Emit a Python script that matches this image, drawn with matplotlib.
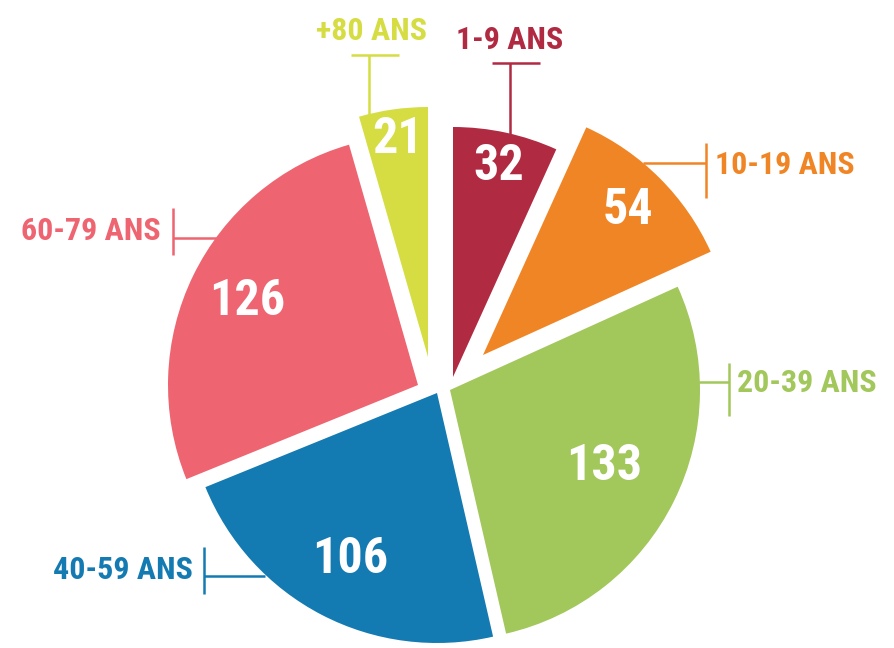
import numpy as np
import matplotlib.pyplot as plt

# data (clockwise from the top)
labels = ["1-9 ANS", "10-19 ANS", "20-39 ANS", "40-59 ANS", "60-79 ANS", "+80 ANS"]
counts = [32, 54, 133, 106, 126, 21]
colors = ["#B02A42", "#F08526", "#A2C75B", "#147AB2", "#EE6471", "#D5DD43"]

W, H = 895, 648
# narrow bold sans, first one found is used
plt.rcParams["font.family"] = ["Liberation Sans Narrow", "Roboto Condensed",
                               "Barlow Semi Condensed", "DejaVu Sans"]

fig = plt.figure(figsize=(W / 100, H / 100), dpi=100)
ax = fig.add_axes([0, 0, 1, 1])

cx, cy = 440, 378       # pie centre in screen pixels
R = 250
# each slice is pulled out by hand in the original (screen px, y down)
nudge = [(13, -1), (43, -23), (10, 12), (-3, 15), (-22, 7), (-12, -21)]
num_r = [0.86, 0.82, 0.69, 0.75, 0.76, 0.88]   # radius fraction of the numbers

wedges, _ = ax.pie(counts, colors=colors, startangle=90, counterclock=False,
                   radius=R, center=(cx, H - cy),
                   wedgeprops=dict(linewidth=0))

for w, (dx, dy), v, fr in zip(wedges, nudge, counts, num_r):
    c = (cx + dx, H - cy - dy)
    w.set_center(c)
    mid = np.deg2rad((w.theta1 + w.theta2) / 2)
    ax.text(c[0] + fr * R * np.cos(mid), c[1] + fr * R * np.sin(mid), str(v),
            color="white", fontsize=36, fontweight="bold",
            ha="center", va="center")

lw = 1.8
fs = 23


def line(xs, ys, col):
    ax.plot(xs, [H - y for y in ys], color=col, lw=lw, solid_capstyle="butt")


# +80 ANS (top)
line([369, 369], [55, 116], colors[5])
line([351, 399], [55, 55], colors[5])
ax.text(372, H - 31, labels[5], color=colors[5], fontsize=fs, fontweight="bold",
        ha="center", va="center")

# 1-9 ANS (top)
line([510, 510], [63, 134], colors[0])
line([492, 540], [63, 63], colors[0])
ax.text(510, H - 40, labels[0], color=colors[0], fontsize=fs, fontweight="bold",
        ha="center", va="center")

# 10-19 ANS (right)
line([643, 706], [163, 163], colors[1])
line([706, 706], [143, 198], colors[1])
ax.text(715, H - 165, labels[1], color=colors[1], fontsize=fs, fontweight="bold",
        ha="left", va="center")

# 20-39 ANS (right)
line([696, 729], [382, 382], colors[2])
line([729, 729], [363, 416], colors[2])
ax.text(737, H - 383, labels[2], color=colors[2], fontsize=fs, fontweight="bold",
        ha="left", va="center")

# 60-79 ANS (left)
line([173, 216], [238, 238], colors[4])
line([173, 173], [208, 255], colors[4])
ax.text(161, H - 231, labels[4], color=colors[4], fontsize=fs, fontweight="bold",
        ha="right", va="center")

# 40-59 ANS (left)
line([204, 265], [576, 576], colors[3])
line([204, 204], [547, 594], colors[3])
ax.text(193, H - 570, labels[3], color=colors[3], fontsize=fs, fontweight="bold",
        ha="right", va="center")

ax.set_xlim(0, W)
ax.set_ylim(0, H)
ax.set_aspect("equal")
ax.axis("off")

fig.savefig("out.png", dpi=100, facecolor="white")
